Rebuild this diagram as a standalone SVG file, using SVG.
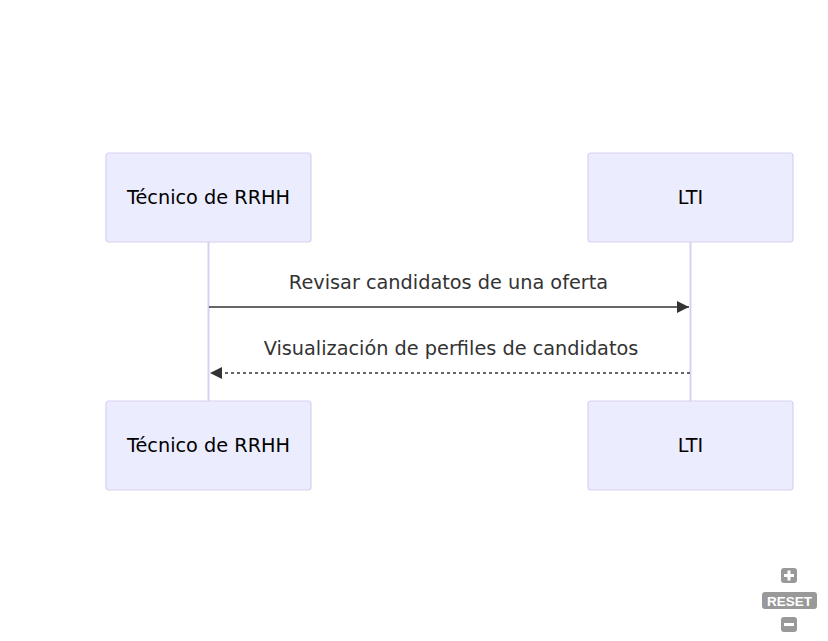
<svg xmlns="http://www.w3.org/2000/svg" width="828" height="641" viewBox="0 0 828 641">
<style>
.actor{fill:#ECECFF;stroke:#D8D0F2;stroke-width:1.2}
.at{font-family:"DejaVu Sans",Verdana,sans-serif;font-size:19.3px;fill:#000;text-anchor:middle;dominant-baseline:central}
.ml{font-family:"DejaVu Sans",Verdana,sans-serif;font-size:19.3px;fill:#333;text-anchor:middle;dominant-baseline:central}
.life{stroke:#D8D0F2;stroke-width:2}
.msg{stroke:#333;stroke-width:1.5;fill:none}
.ctl{fill:#999}
.ctlt{font-family:"Liberation Sans",Arial,sans-serif;font-size:13.5px;font-weight:bold;fill:#fff;text-anchor:middle;dominant-baseline:central}
</style>
<defs>
<marker id="ah" markerWidth="12" markerHeight="12" refX="12" refY="6" orient="auto" markerUnits="userSpaceOnUse">
<path d="M0,0 L12,6 L0,12 z" fill="#333"/>
</marker>
</defs>
<rect width="828" height="641" fill="#fff"/>
<g id="lifelines">
<line class="life" x1="208.5" y1="242" x2="208.5" y2="401"/>
<line class="life" x1="690.5" y1="242" x2="690.5" y2="401"/>
</g>
<g id="actor-tecnico-top"><rect class="actor" x="106" y="153" width="205" height="89" rx="3"/><text class="at" x="208.5" y="197.5">Técnico de RRHH</text></g>
<g id="actor-lti-top"><rect class="actor" x="588" y="153" width="205" height="89" rx="3"/><text class="at" x="690.5" y="197.5">LTI</text></g>
<g id="actor-tecnico-bottom"><rect class="actor" x="106" y="401" width="205" height="89" rx="3"/><text class="at" x="208.5" y="445.5">Técnico de RRHH</text></g>
<g id="actor-lti-bottom"><rect class="actor" x="588" y="401" width="205" height="89" rx="3"/><text class="at" x="690.5" y="445.5">LTI</text></g>
<g id="connectors">
<line class="msg" x1="209" y1="307" x2="689" y2="307" marker-end="url(#ah)"/>
<text class="ml" x="448.5" y="282.5">Revisar candidatos de una oferta</text>
<line class="msg" x1="690" y1="373" x2="210" y2="373" stroke-dasharray="3,3" marker-end="url(#ah)"/>
<text class="ml" x="451" y="348.5">Visualización de perfiles de candidatos</text>
</g>
<g id="controls">
<rect class="ctl" x="781" y="568" width="16" height="15" rx="3"/>
<path d="M784,575.5 h10 M789,570.5 v10" stroke="#fff" stroke-width="3"/>
<rect class="ctl" x="762" y="592" width="55" height="17" rx="3"/>
<text class="ctlt" x="789.5" y="601">RESET</text>
<rect class="ctl" x="781" y="617" width="16" height="15" rx="3"/>
<path d="M784,624.5 h10" stroke="#fff" stroke-width="3"/>
</g>
</svg>
